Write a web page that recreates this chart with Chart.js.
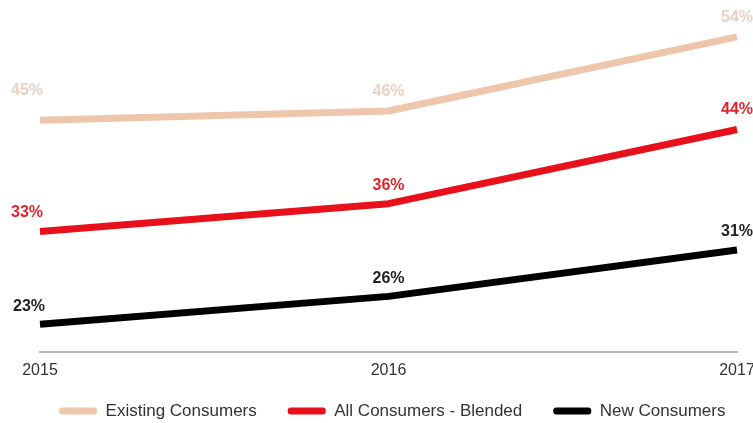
<!DOCTYPE html>
<html>
<head>
<meta charset="utf-8">
<script src="https://cdn.jsdelivr.net/npm/chart.js@4"></script>
<style>
  html, body { margin: 0; padding: 0; background: #fff; }
  #wrap { width: 753px; height: 423px; }
</style>
</head>
<body>
<div id="wrap"><canvas id="chart"></canvas></div>
<script>
const years = ['2015', '2016', '2017'];
const existingConsumers = [45, 46, 54];
const allConsumersBlended = [33, 36, 44];
const newConsumers = [23, 26, 31];

// label offsets per dataset (first, middle, last point)
const labelOffsets = [
  [[-13, -30], [0, -19], [0, -19]],
  [[-13, -19], [0, -18], [0, -20]],
  [[-11, -18], [0, -18], [0, -18]]
];
const labelColors = ['#e9d2c3', '#e2232b', '#222222'];

const valueLabels = {
  id: 'valueLabels',
  afterDatasetsDraw(chart) {
    const ctx = chart.ctx;
    ctx.save();
    ctx.font = 'bold 16px "Liberation Sans", Arial, sans-serif';
    ctx.textAlign = 'center';
    ctx.textBaseline = 'middle';
    chart.data.datasets.forEach((ds, i) => {
      const meta = chart.getDatasetMeta(i);
      ctx.fillStyle = labelColors[i];
      meta.data.forEach((pt, j) => {
        const off = labelOffsets[i][j];
        ctx.fillText(ds.data[j] + '%', pt.x + off[0], pt.y + off[1]);
      });
    });
    ctx.restore();
  }
};

// the x scale is squeezed so the legend sits close; let its labels overflow below
const unclipTicks = {
  id: 'unclipTicks',
  afterLayout(chart) {
    chart.scales.x.bottom += 30;
  }
};

function lineSet(label, data, color) {
  return {
    label: label,
    data: data,
    borderColor: color,
    backgroundColor: color,
    borderWidth: 7,
    borderJoinStyle: 'round',
    borderCapStyle: 'butt',
    tension: 0,
    pointRadius: 0,
    pointHoverRadius: 0,
    fill: false
  };
}

new Chart(document.getElementById('chart'), {
  type: 'line',
  data: {
    labels: years,
    datasets: [
      lineSet('Existing Consumers', existingConsumers, '#eec6ac'),
      lineSet('All Consumers - Blended', allConsumersBlended, '#e8101a'),
      lineSet('New Consumers', newConsumers, '#000000')
    ]
  },
  options: {
    responsive: true,
    maintainAspectRatio: false,
    animation: false,
    layout: { padding: { left: 11.5, right: -20, top: 9, bottom: -6.5 } },
    scales: {
      x: {
        offset: false,
        grid: { display: false, drawTicks: false },
        border: { display: true, color: '#b5b5b5', width: 2 },
        ticks: {
          color: '#333',
          padding: 9,
          maxRotation: 0,
          font: { family: '"Liberation Sans", Arial, sans-serif', size: 16 }
        },
        afterFit(scale) {
          scale.paddingRight = 16;
          scale.paddingLeft = 40;
          scale.height = 19.5;
        }
      },
      y: {
        display: false,
        min: 20,
        max: 57
      }
    },
    plugins: {
      legend: {
        position: 'bottom',
        labels: {
          boxWidth: 38,
          boxHeight: 7,
          padding: 31,
          color: '#333',
          useBorderRadius: true,
          borderRadius: 3,
          font: { family: '"Liberation Sans", Arial, sans-serif', size: 17 },
          generateLabels(chart) {
            return Chart.defaults.plugins.legend.labels.generateLabels(chart).map(l => {
              l.lineWidth = 0;
              return l;
            });
          }
        }
      },
      tooltip: { enabled: false }
    }
  },
  plugins: [valueLabels, unclipTicks]
});
</script>
</body>
</html>
